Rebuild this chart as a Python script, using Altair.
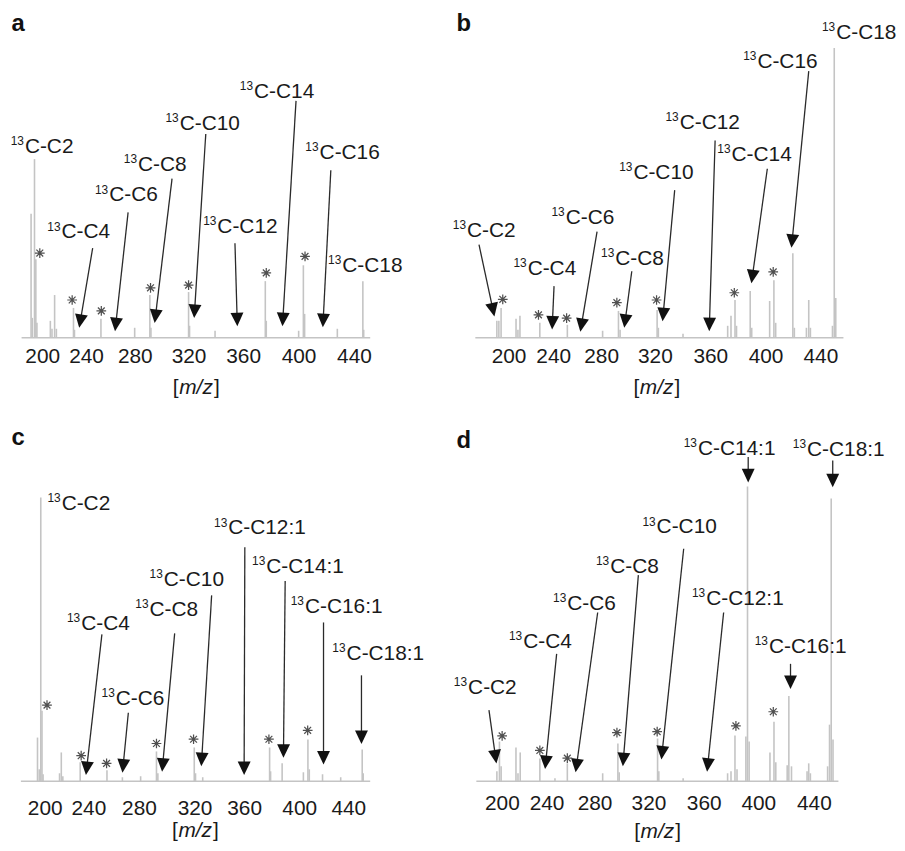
import math
import numpy as np
import pandas as pd
import altair as alt

FONT = "Liberation Sans"
TICKS = [200, 240, 280, 320, 360, 400, 440]

# ---------------- panel a ----------------
a_peak_mz = [189.9, 191.0, 193.0, 194.2, 195.2, 207.4, 208.9, 211.3, 212.9, 228.5, 229.4, 252.2, 279.9,
             291.2, 292.0, 320.0, 320.7, 339.4, 376.0, 376.7, 400.1, 403.5, 404.4, 428.0, 446.4, 447.0]
a_peak_int = [125, 20, 180, 79, 15, 17, 9, 43, 9, 30, 8, 19, 10,
              43, 10, 46, 12, 7, 57, 17, 7, 73, 24, 9, 57, 8]
a_ast_mz = [197.8, 227.3, 252.5, 291.7, 320.0, 376.7, 404.7]
a_ast_int = [85.3, 38, 27, 50.3, 53, 65.3, 82]
a_lab = ["C-C2", "C-C4", "C-C6", "C-C8", "C-C10", "C-C12", "C-C14", "C-C16", "C-C18"]
a_lab_mz = [184.3, 217.6, 259.0, 282.4, 313.4, 341.1, 367.9, 415.2, 431.6]
a_lab_int = [193, 107, 144.3, 175.3, 216.3, 113, 248.7, 187, 73.7]
a_tail_mz = [245.4, 274.5, 307.7, 332.6, 354.0, 398.2, 423.3]
a_tail_int = [90.3, 126.3, 160.3, 205.3, 95.3, 238.7, 168.7]
a_head_mz = [234.8, 264.4, 295.4, 324.4, 355.6, 388.7, 417.8]
a_head_int = [17, 13.7, 22, 27, 18.7, 18.7, 17.7]
a_span = [181.3, 451.7]

# ---------------- panel b ----------------
b_peak_mz = [189.5, 191.3, 193.3, 206.7, 208.4, 210.2, 228.0, 251.8, 281.1, 292.9,
             294.1, 321.6, 322.5, 340.3, 372.6, 375.0, 377.9, 379.0, 388.9, 390.0,
             403.0, 406.1, 407.4, 419.9, 421.0, 429.8, 431.5, 432.7, 448.8, 450.1, 451.2]
b_peak_int = [17, 17, 30, 19, 8, 22, 15, 13, 7, 27,
              8, 28, 10, 4, 12, 22, 38, 12, 47, 10,
              37, 58, 15, 85, 10, 10, 38, 10, 12, 292, 40]
b_ast_mz = [194.8, 226.8, 251.2, 291.7, 321.2, 377.4, 405.6]
b_ast_int = [38.7, 23, 19.7, 35.3, 38, 45.3, 66.3]
b_lab = ["C-C2", "C-C4", "C-C6", "C-C8", "C-C10", "C-C12", "C-C14", "C-C16", "C-C18"]
b_lab_mz = [162.8, 217.1, 250.4, 290.5, 304.0, 337.9, 375.4, 394.1, 451.5]
b_lab_int = [108.7, 70.3, 122, 80.3, 167, 217, 185.3, 278.7, 307.7]
b_tail_mz = [173.5, 240.7, 276.6, 302.8, 334.3, 363.5, 401.3, 431.5]
b_tail_int = [93.7, 52, 107, 67, 148.7, 198.7, 170.3, 268.7]
b_head_mz = [186.0, 239.3, 263.6, 297.9, 326.0, 359.4, 390.5, 419.4]
b_head_int = [28.4, 15.3, 13, 17, 23.7, 13.7, 62, 97.7]
b_span = [170.2, 456.8]

# ---------------- panel c ----------------
c_peak_mz = [193.4, 195.0, 196.4, 197.5, 198.5, 213.6, 215.2, 216.6, 232.5, 254.7,
             266.9, 281.2, 292.6, 293.6, 319.8, 320.8, 326.6, 378.5, 379.2, 387.6,
             403.4, 407.1, 408.2, 419.0, 433.8, 451.3, 452.1]
c_peak_int = [44, 12, 286, 71, 7, 8, 29, 5, 19, 11,
              4, 5, 30, 8, 34, 8, 4, 34, 10, 18,
              9, 42, 12, 7, 4, 32, 8]
c_ast_mz = [202.1, 233.4, 254.4, 292.6, 319.3, 378.0, 406.9]
c_ast_int = [76.7, 25.7, 18, 38, 42.3, 42.3, 51.3]
c_lab = ["C-C2", "C-C4", "C-C6", "C-C8", "C-C10", "C-C12:1", "C-C14:1", "C-C16:1", "C-C18:1"]
c_lab_mz = [215.5, 233.4, 261.7, 287.6, 297.9, 347.2, 376.1, 404.7, 438.6]
c_lab_int = [280.7, 159, 84, 174, 204, 255.7, 217.3, 176.3, 129]
c_tail_mz = [250.7, 271.6, 305.7, 333.8, 360.5, 389.8, 419.8, 450.7]
c_tail_int = [148, 69, 149, 187.3, 235.7, 201.7, 160, 106.7]
c_head_mz = [238.5, 267.5, 297.1, 325.8, 360.0, 388.6, 419.8, 450.7]
c_head_int = [13.3, 15.7, 16.7, 22.3, 13.3, 30.7, 24, 44.7]
c_span = [178.2, 457.8]

# ---------------- panel d ----------------
d_peak_mz = [195.5, 197.8, 199.3, 212.6, 214.4, 216.4, 234.0, 247.0, 257.3, 286.0,
             297.3, 298.3, 326.6, 327.5, 345.1, 377.5, 380.0, 382.9, 384.4, 390.9,
             392.1, 393.3, 408.4, 411.3, 412.6, 420.8, 422.0, 423.9, 435.1, 436.3,
             437.5, 449.9, 451.3, 452.5, 453.8]
d_peak_int = [10, 40, 15, 34, 8, 29, 23, 3, 18, 8,
              38, 9, 43, 10, 3, 8, 10, 46, 12, 45,
              297, 40, 29, 60, 19, 16, 86, 15, 10, 18,
              8, 15, 57, 285, 42]
d_ast_mz = [200.2, 234.0, 257.3, 296.6, 326.3, 383.6, 410.8]
d_ast_int = [45.7, 31, 23.3, 49, 50, 55.7, 70]
d_lab = ["C-C2", "C-C4", "C-C6", "C-C8", "C-C10", "C-C12:1", "C-C14:1", "C-C16:1", "C-C18:1"]
d_lab_mz = [169.7, 219.1, 257.3, 291.6, 325.9, 361.8, 355.8, 407.7, 435.1]
d_lab_int = [95, 141.7, 180, 216.7, 256.7, 185, 335.7, 136.7, 335]
d_tail_mz = [188.4, 248.4, 282.3, 312.5, 345.5, 374.6, 392.6, 423.2, 453.6]
d_tail_int = [71.7, 128.3, 170, 207.7, 234.3, 170, 326.7, 118.3, 323.3]
d_head_mz = [194.2, 239.3, 265.0, 301.4, 329.9, 363.0, 392.6, 423.2, 453.6]
d_head_int = [25, 19.3, 16, 22.3, 29, 16.7, 308.3, 100, 303.3]
d_span = [177.1, 457.7]

# ---------------- axis calibration (tick label pixel positions) ----------------
a_edge, a_tick_px = [169.0, 499.6], [34.5, 78.7, 127.8, 182.0, 237.0, 292.8, 348.7]
b_edge, b_tick_px = [144.4, 490.8], [62.5, 107.5, 155.8, 210.0, 265.8, 321.5, 376.8]
c_edge, c_tick_px = [166.4, 511.9], [37.0, 81.0, 132.0, 188.0, 238.0, 293.5, 343.0]
d_edge, d_tick_px = [150.4, 494.9], [55.8, 100.8, 149.2, 203.5, 259.2, 314.2, 370.2]

ARROW_PATH = "M-0.5,-0.5L0.5,-0.5L0,0.55Z"
STAR_PATH = "M0,-1L0,1M-1,0L1,0M-0.7,-0.7L0.7,0.7M-0.7,0.7L0.7,-0.7"


def panel(letter, W, H, edge, tick_px, peak_mz, peak_int, ast_mz, ast_int,
          lab, lab_mz, lab_int, tail_mz, tail_int, head_mz, head_int, span,
          lab_pad, letter_xy, title_xy):
    dom = [edge[0]] + TICKS + [edge[1]]
    rng = [0] + list(tick_px) + [W]
    xs = alt.Scale(domain=dom, range=rng, nice=False, zero=False)
    ys = alt.Scale(domain=[0, H], nice=False, zero=False)
    xax = alt.Axis(values=TICKS, domain=False, ticks=False, tickSize=0, grid=False,
                   labelFont=FONT, labelFontSize=21, labelColor="#1a1a1a",
                   labelPadding=lab_pad, title=None, labelOverlap=False,
                   labelFlush=False, format="d")

    def X(f):
        return alt.X(f, type="quantitative", scale=xs, axis=xax)

    def Y(f):
        return alt.Y(f, type="quantitative", scale=ys, axis=None)

    # arrow-head angles from the scale geometry
    angs = []
    for tm, ti, hm, hi in zip(tail_mz, tail_int, head_mz, head_int):
        dx = float(np.interp(hm, dom, rng) - np.interp(tm, dom, rng))
        dy = float(ti - hi)
        angs.append(math.degrees(math.atan2(-dx, dy)) % 360)

    df_span = pd.DataFrame({"x0": [span[0]], "x1": [span[1]], "z": [0]})
    df_peak = pd.DataFrame({"mz": peak_mz, "h": peak_int, "z": 0})
    df_ast = pd.DataFrame({"mz": ast_mz, "h": ast_int})
    df_lab = pd.DataFrame({"name": lab, "mz": lab_mz, "h": lab_int})
    df_arr = pd.DataFrame({"tm": tail_mz, "ti": tail_int, "hm": head_mz,
                           "hi": head_int, "ang": angs})

    base = alt.Chart(df_span).mark_rule(color="#c4c4c4", strokeWidth=1.5).encode(
        x=X("x0"), x2=alt.X2("x1"), y=Y("z"))
    peaks = alt.Chart(df_peak).mark_rule(color="#c4c4c4", strokeWidth=1.6).encode(
        x=X("mz"), y=Y("h"), y2=alt.Y2("z"))
    lines = alt.Chart(df_arr).mark_rule(color="#2a2a2a", strokeWidth=1.3).encode(
        x=X("tm"), y=Y("ti"), x2=alt.X2("hm"), y2=alt.Y2("hi"))
    heads = alt.Chart(df_arr).mark_point(shape=ARROW_PATH, filled=True, size=676,
                                         color="#111111", opacity=1).encode(
        x=X("hm"), y=Y("hi"), angle=alt.Angle("ang:Q", scale=None))
    sup = alt.Chart(df_lab).mark_text(text="13", font=FONT, fontSize=12, align="right",
                                      baseline="middle", dx=-1, dy=-5,
                                      color="#1a1a1a").encode(x=X("mz"), y=Y("h"))
    main = alt.Chart(df_lab).mark_text(font=FONT, fontSize=21, align="left",
                                       baseline="middle", dy=1,
                                       color="#1a1a1a").encode(
        x=X("mz"), y=Y("h"), text="name:N")
    asts = alt.Chart(df_ast).mark_point(shape=STAR_PATH, filled=False, size=96,
                                        stroke="#505050", strokeWidth=1.25,
                                        opacity=1).encode(x=X("mz"), y=Y("h"))
    one = pd.DataFrame({"t": [letter]})
    let = alt.Chart(one).mark_text(font=FONT, fontSize=24, fontWeight="bold",
                                   align="left", baseline="alphabetic",
                                   color="#111111").encode(
        x=alt.value(letter_xy[0]), y=alt.value(letter_xy[1]), text="t:N")
    tx, ty = title_xy
    t_mid = alt.Chart(one).mark_text(text="m/z", font=FONT, fontSize=21, fontStyle="italic",
                                     align="center", baseline="middle",
                                     color="#1a1a1a").encode(x=alt.value(tx), y=alt.value(ty))
    t_l = alt.Chart(one).mark_text(text="[", font=FONT, fontSize=21, align="right",
                                   baseline="middle", color="#1a1a1a").encode(
        x=alt.value(tx - 17.5), y=alt.value(ty))
    t_r = alt.Chart(one).mark_text(text="]", font=FONT, fontSize=21, align="left",
                                   baseline="middle", color="#1a1a1a").encode(
        x=alt.value(tx + 18), y=alt.value(ty))
    return alt.layer(base, peaks, lines, heads, sup, main, asts, let, t_mid, t_l, t_r).properties(
        width=W, height=H)


pa = panel("a", 432, 329, a_edge, a_tick_px, a_peak_mz, a_peak_int, a_ast_mz, a_ast_int,
           a_lab, a_lab_mz, a_lab_int, a_tail_mz, a_tail_int, a_head_mz, a_head_int, a_span,
           8, (3.5, 19.5), (189.5, 380))
pb = panel("b", 447, 329, b_edge, b_tick_px, b_peak_mz, b_peak_int, b_ast_mz, b_ast_int,
           b_lab, b_lab_mz, b_lab_int, b_tail_mz, b_tail_int, b_head_mz, b_head_int, b_span,
           8, (10, 20), (211.7, 380))
pc = panel("c", 432, 364, c_edge, c_tick_px, c_peak_mz, c_peak_int, c_ast_mz, c_ast_int,
           c_lab, c_lab_mz, c_lab_int, c_tail_mz, c_tail_int, c_head_mz, c_head_int, c_span,
           17, (3.5, 25), (188.7, 414))
pd_ = panel("d", 447, 364, d_edge, d_tick_px, d_peak_mz, d_peak_int, d_ast_mz, d_ast_int,
            d_lab, d_lab_mz, d_lab_int, d_tail_mz, d_tail_int, d_head_mz, d_head_int, d_span,
            12, (10, 28), (212.5, 415))

chart = alt.concat(pa, pb, pc, pd_, columns=2,
                   spacing={"row": 83, "column": 10},
                   bounds="flush", align="each").properties(
    padding=0, background="white"
).configure_view(strokeWidth=0)

chart.save("out.html", embed_options={"renderer": "svg", "actions": False})
